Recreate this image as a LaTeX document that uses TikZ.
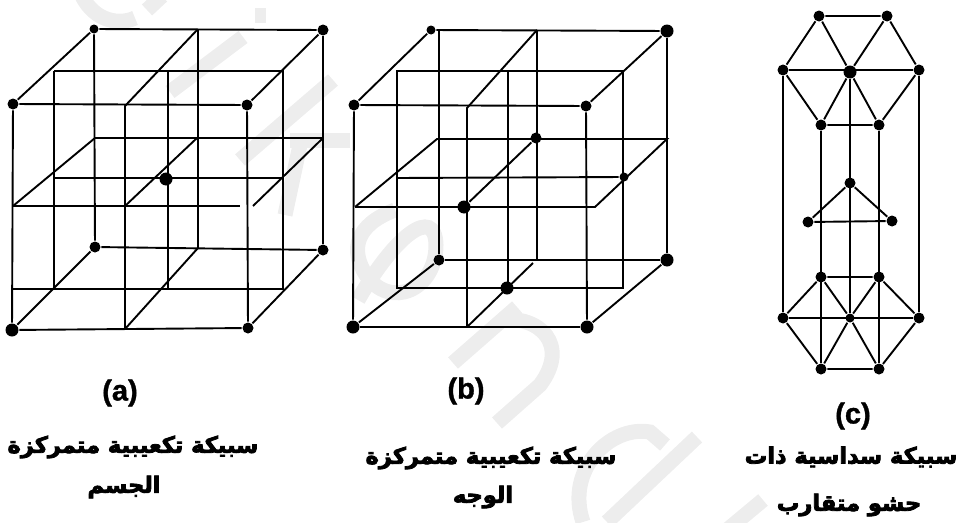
\documentclass[tikz,border=0pt]{standalone}
\usepackage{fontspec}
\setmainfont{Liberation Sans}[BoldFeatures={FakeBold=1.2}]
\newfontfamily\arabicfont[Script=Arabic,BoldFeatures={FakeBold=3.5}]{DejaVu Sans}
\TeXXeTstate=1
\usepackage{tikz}
\begin{document}
\begin{tikzpicture}[x=1pt,y=-1pt,line width=1.9pt,
 atom/.style={circle,fill=black,minimum size=11pt,inner sep=0pt},
 atomb/.style={atom,minimum size=13pt},
 atoms/.style={atom,minimum size=9pt},
 wm/.style={draw=black!7,line width=15pt},
 caption/.style={font=\fontsize{29}{29}\selectfont\bfseries},
 arab/.style={font=\arabicfont\bfseries\fontsize{22.5}{22.5}\selectfont}]
\useasboundingbox (0,0) rectangle (958,522);
% watermark
\draw[wm] (82,-4) .. controls (95,22) and (120,25) .. (135,18);
\draw[wm] (147,10) -- (162,-4);
\draw[wm] (170,92) -- (243,37);
\draw[wm] (255,15) -- (266,15);
\draw[wm] (240,160) -- (333,80);
\draw[wm] (290,140) -- (350,140);
\draw[wm] (300,145) -- (285,215);
\draw[wm] (358,300) .. controls (395,235) and (435,205) .. (436,245) .. controls (436,290) and (390,310) .. (366,275) .. controls (350,250) and (355,225) .. (395,210);
\draw[wm] (517,307) -- (453,363);
\draw[wm] (500,320) .. controls (540,315) and (570,345) .. (540,385) -- (497,423);
\draw[wm] (697,437) -- (607,522);
\draw[wm] (583,522) .. controls (565,470) and (610,425) .. (650,432) -- (665,445);
\draw[wm] (763,500) -- (727,530);
% cube a
\node[atom] (aftl) at (13,104) {};
\node[atom] (aftr) at (247,105) {};
\node[atomb] (afbl) at (12,330) {};
\node[atom] (afbr) at (248,328) {};
\node[atoms] (abtl) at (94,29) {};
\node[atom] (abtr) at (323,30) {};
\node[atom] (abbl) at (95,247) {};
\node[atom] (abbr) at (323,250) {};
\node[atomb] (acen) at (166,179) {};
\coordinate (at1) at (54,71); \coordinate (at2) at (283,71);
\coordinate (at3) at (283,289); \coordinate (at4) at (54,289); \coordinate (at5) at (13,289);
\coordinate (au1) at (198,29); \coordinate (au2) at (125,106); \coordinate (au3) at (125,329);
\coordinate (au4) at (198,248); \coordinate (au5) at (168,71); \coordinate (au6) at (168,289);
\coordinate (am1) at (13,206); \coordinate (am2) at (95,138); \coordinate (am3) at (323,138);
\coordinate (am4) at (240,206); \coordinate (am5) at (253,206); \coordinate (am6) at (283,178);
\coordinate (am7) at (54,178); \coordinate (am8) at (125,206); \coordinate (am9) at (197,138);
\draw (aftl)--(aftr); \draw (afbl)--(afbr); \draw (aftl)--(afbl); \draw (aftr)--(afbr);
\draw (abtl)--(abtr); \draw (abbl)--(abbr); \draw (abtl)--(abbl); \draw (abtr)--(abbr);
\draw (aftl)--(abtl); \draw (aftr)--(abtr); \draw (afbl)--(abbl); \draw (afbr)--(abbr);
\draw (at1)--(at2)--(at3)--(at5); \draw (at1)--(at4);
\draw (au1)--(au2)--(au3); \draw (au1)--(au4); \draw (au3)--(au4); \draw (au5)--(au6);
\draw (am1)--(am2); \draw (am2)--(am3); \draw (am3)--(am5); \draw (am1)--(am4);
\draw (am7)--(am6); \draw (am8)--(am9);
% cube b
\node[atom] (bftl) at (354,105) {};
\node[atom] (bftr) at (586,106) {};
\node[atomb] (bfbl) at (353,327) {};
\node[atomb] (bfbr) at (587,327) {};
\node[atoms] (bbtl) at (431,30) {};
\node[atomb] (bbtr) at (667,31) {};
\node[atom] (bbbl) at (439,260) {};
\node[atomb] (bbbr) at (667,260) {};
\node[atom] (bcf1) at (536,138) {};
\node[atoms] (bcf2) at (624,177) {};
\node[atomb] (bcf3) at (464,207) {};
\node[atomb] (bcf4) at (507,288) {};
\coordinate (bt1) at (397,71); \coordinate (bt2) at (623,71);
\coordinate (bt3) at (623,288); \coordinate (bt4) at (397,288);
\coordinate (bu1) at (537,30); \coordinate (bu2) at (467,108); \coordinate (bu3) at (467,327);
\coordinate (bu4) at (537,260); \coordinate (bu5) at (508,71); \coordinate (bu6) at (508,288);
\coordinate (bu7) at (533,263); \coordinate (bu8) at (439,30);
\coordinate (bm1) at (355,207); \coordinate (bm2) at (437,139); \coordinate (bm3) at (667,139);
\coordinate (bm4) at (595,207); \coordinate (bm5) at (397,178);
\draw (bftl)--(bftr); \draw (bfbl)--(bfbr); \draw (bftl)--(bfbl); \draw (bftr)--(bfbr);
\draw (bbtl)--(bbtr); \draw (bbbl)--(bbbr); \draw (bu8)--(bbbl); \draw (bbtr)--(bbbr);
\draw (bftl)--(bbtl); \draw (bftr)--(bbtr); \draw (bfbl)--(bbbl); \draw (bfbr)--(bbbr);
\draw (bt1)--(bt2)--(bt3)--(bt4)--cycle;
\draw (bu1)--(bu2)--(bu3); \draw (bu1)--(bu4); \draw (bu3)--(bu7); \draw (bu5)--(bu6);
\draw (bm1)--(bm2)--(bm3)--(bm4)--(bm1); \draw (bm5)--(bcf2); \draw (bcf3)--(bcf1);
% hexagonal c
\node[atom] (ct1) at (819,16) {};
\node[atom] (ct2) at (887,16) {};
\node[atom] (ct3) at (783,70) {};
\node[atomb] (ct4) at (850,72) {};
\node[atom] (ct5) at (919,70) {};
\node[atom] (ct6) at (821,125) {};
\node[atom] (ct7) at (879,125) {};
\node[atom] (cb1) at (821,277) {};
\node[atom] (cb2) at (879,277) {};
\node[atom] (cb3) at (783,318) {};
\node[atoms] (cb4) at (850,318) {};
\node[atom] (cb5) at (919,318) {};
\node[atom] (cb6) at (821,369) {};
\node[atom] (cb7) at (879,369) {};
\node[atom] (cm1) at (850,183) {};
\node[atom] (cm2) at (808,222) {};
\node[atom] (cm3) at (892,221) {};
\draw (ct1)--(ct2)--(ct5)--(ct7)--(ct6)--(ct3)--(ct1);
\draw (ct3)--(ct5); \draw (ct1)--(ct4); \draw (ct2)--(ct4); \draw (ct6)--(ct4); \draw (ct7)--(ct4);
\draw (cb1)--(cb2)--(cb5)--(cb7)--(cb6)--(cb3)--(cb1);
\draw (cb3)--(cb5); \draw (cb1)--(cb4); \draw (cb2)--(cb4); \draw (cb6)--(cb4); \draw (cb7)--(cb4);
\draw (ct3)--(cb3); \draw (ct5)--(cb5); \draw (ct6)--(cb6); \draw (ct4)--(cb4); \draw (ct7)--(cb7);
\draw (cm1)--(cm2)--(cm3)--(cm1);
% labels
\node[caption] (capa) at (120,393) {(a)};
\node[caption] (capb) at (466,391) {(b)};
\node[caption] (capc) at (853,416) {(c)};
\node[arab] (ara1) at (133,447) {\beginR سبيكة تكعيبية متمركزة\endR};
\node[arab] (ara2) at (124,487) {\beginR الجسم\endR};
\node[arab] (arb1) at (491,458) {\beginR سبيكة تكعيبية متمركزة\endR};
\node[arab] (arb2) at (483,497) {\beginR الوجه\endR};
\node[arab] (arc1) at (851,457) {\beginR سبيكة سداسية ذات\endR};
\node[arab] (arc2) at (849,505) {\beginR حشو متقارب\endR};
\end{tikzpicture}
\end{document}
